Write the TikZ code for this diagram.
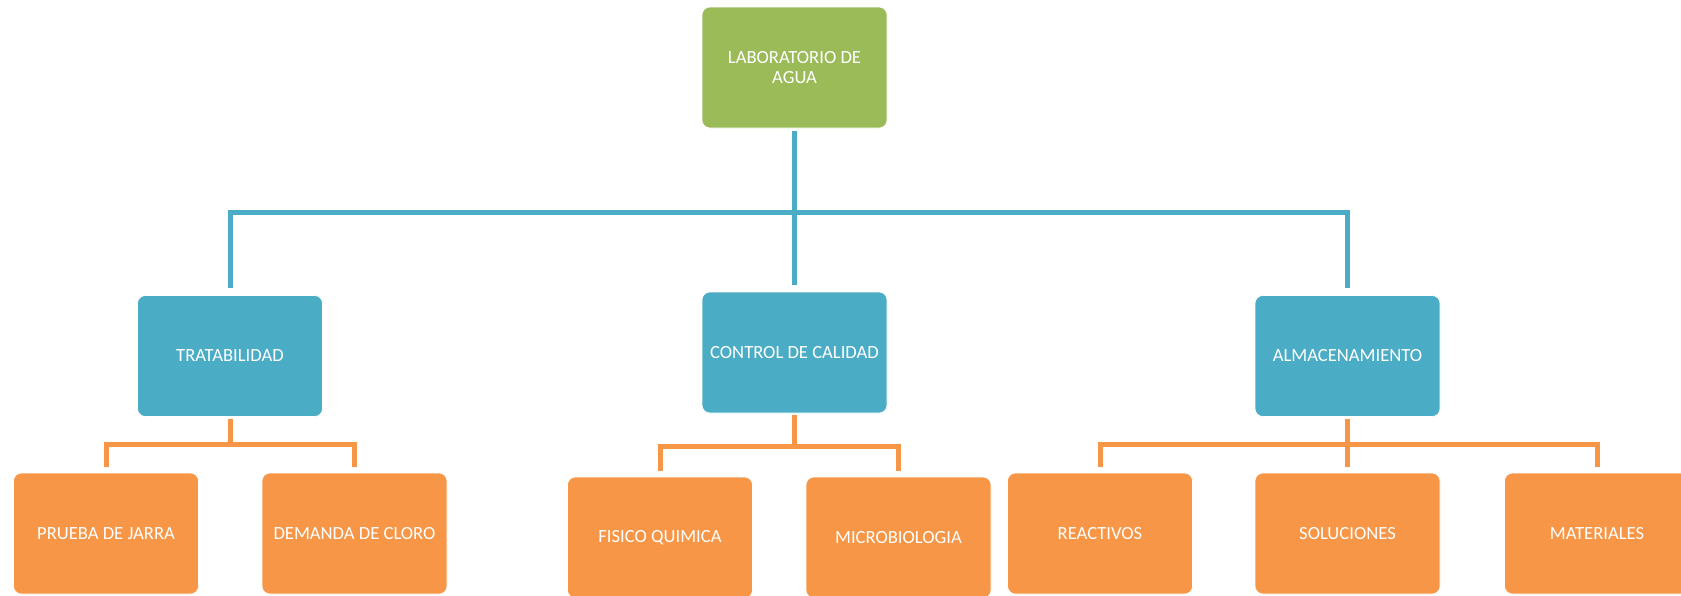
\documentclass[tikz,border=0pt]{standalone}
\usepackage{fontspec}
\setmainfont{Carlito}
\definecolor{boxgreen}{RGB}{155,187,89}
\definecolor{boxblue}{RGB}{75,172,198}
\definecolor{boxorange}{RGB}{247,150,70}
\tikzset{
	box/.style={rectangle, rounded corners=8pt, draw=white, line width=0.6pt, minimum width=185pt, minimum height=121pt, inner sep=0pt, text=white, align=center, font=\fontsize{18.6}{19.7}\selectfont},
	bluelink/.style={draw=boxblue, line width=5pt, shorten <=3pt, shorten >=7pt},
	orangelink/.style={draw=boxorange, line width=5pt, shorten <=2pt, shorten >=6pt}
}
\begin{document}
\begin{tikzpicture}[x=1pt,y=-1pt]
	\useasboundingbox (0,0) rectangle (1681,595);
	\node[box, fill=boxgreen] (lab) at (794.5,67.5) {LABORATORIO DE\\AGUA};
	\node[box, fill=boxblue] (trat) at (230,356) {TRATABILIDAD};
	\node[box, fill=boxblue] (ctrl) at (794.5,352.5) {CONTROL DE CALIDAD};
	\node[box, fill=boxblue] (alm) at (1347.5,356) {ALMACENAMIENTO};
	\node[box, fill=boxorange] (jarra) at (106,533.5) {PRUEBA DE JARRA};
	\node[box, fill=boxorange] (cloro) at (354.5,533.5) {DEMANDA DE CLORO};
	\node[box, fill=boxorange] (fisico) at (660,537.5) {FISICO QUIMICA};
	\node[box, fill=boxorange] (micro) at (898.5,537.5) {MICROBIOLOGIA};
	\node[box, fill=boxorange] (react) at (1100,533.5) {REACTIVOS};
	\node[box, fill=boxorange] (soluc) at (1347.5,533.5) {SOLUCIONES};
	\node[box, fill=boxorange] (mater) at (1597,533.5) {MATERIALES};
	% laboratorio -> areas
	\draw[bluelink] (lab.south) -- ++(0,84) -| (trat.north);
	\draw[bluelink] (lab.south) -- ++(0,84) -| (alm.north);
	\draw[bluelink] (lab.south) -- (ctrl.north);
	% areas -> secciones
	\draw[orangelink] (trat.south) -- ++(0,28) -| (jarra.north);
	\draw[orangelink] (trat.south) -- ++(0,28) -| (cloro.north);
	\draw[orangelink] (ctrl.south) -- ++(0,33) -| (fisico.north);
	\draw[orangelink] (ctrl.south) -- ++(0,33) -| (micro.north);
	\draw[orangelink] (alm.south) -- ++(0,28) -| (react.north);
	\draw[orangelink] (alm.south) -- (soluc.north);
	\draw[orangelink] (alm.south) -- ++(0,28) -| (mater.north);
\end{tikzpicture}
\end{document}
